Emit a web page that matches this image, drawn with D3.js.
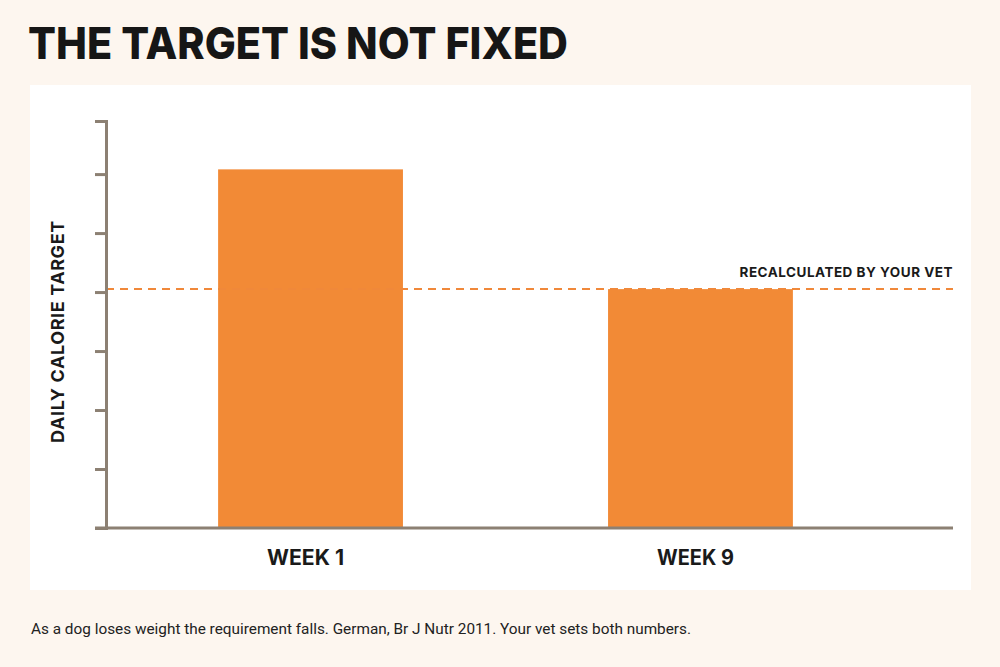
<!DOCTYPE html>
<html><head><meta charset="utf-8">
<script src="https://cdn.jsdelivr.net/npm/d3@7"></script>
<style>
html,body{margin:0;padding:0;background:#fdf6ef;}
svg{display:block;}
</style></head>
<body>
<svg id="chart" width="1000" height="667"></svg>
<script>
// Data
const categories = ["WEEK 1", "WEEK 9"];
const values = [6.08, 4.05];
const referenceValue = 4.05;
const referenceLabel = "RECALCULATED BY YOUR VET";
const yTicks = [1, 2, 3, 4, 5, 6];
const yMax = 6.9;
const title = "THE TARGET IS NOT FIXED";
const yLabel = "DAILY CALORIE TARGET";
const footer = "As a dog loses weight the requirement falls. German, Br J Nutr 2011. Your vet sets both numbers.";

const svg = d3.select("#chart");
const W = 1000, H = 667;
svg.append("rect").attr("width", W).attr("height", H).attr("fill", "#fdf6ef");
svg.append("rect").attr("x", 30).attr("y", 85).attr("width", 941).attr("height", 505).attr("fill", "#ffffff");

svg.append("text").attr("x", 28).attr("y", 59)
  .attr("font-family", "Inter, 'Noto Sans', sans-serif").attr("font-weight", 800)
  .attr("font-size", 44).attr("fill", "#161616")
  .attr("textLength", 540).attr("lengthAdjust", "spacingAndGlyphs")
  .text(title);

const x0 = 106, xEnd = 953, yBase = 528;
const y = d3.scaleLinear().domain([0, yMax]).range([yBase, 121]);
const x = d3.scaleBand().domain(categories).range([106, 905]).paddingInner(0.526).paddingOuter(0.2875);

const axisColor = "#8c8073";

// bars
svg.selectAll("rect.bar").data(values).enter().append("rect")
  .attr("class", "bar")
  .attr("x", (d, i) => x(categories[i]))
  .attr("width", x.bandwidth())
  .attr("y", d => y(d))
  .attr("height", d => yBase - y(d))
  .attr("fill", "#f28a36");

// reference line
svg.append("line").attr("x1", x0).attr("x2", xEnd)
  .attr("y1", y(referenceValue)).attr("y2", y(referenceValue))
  .attr("stroke", "#f0883a").attr("stroke-width", 2).attr("stroke-dasharray", "8,6");
svg.append("text").attr("x", xEnd).attr("y", y(referenceValue) - 12)
  .attr("text-anchor", "end")
  .attr("font-family", "Inter, 'Noto Sans', sans-serif").attr("font-weight", 700)
  .attr("font-size", 13.5).attr("fill", "#1a1a1a").attr("letter-spacing", 0.5)
  .text(referenceLabel);

// y axis
const yAxis = d3.axisLeft(y).tickValues(yTicks).tickSize(11).tickSizeOuter(11).tickFormat("");
const gy = svg.append("g").attr("transform", `translate(${x0},0)`).call(yAxis);
gy.selectAll("path, line").attr("stroke", axisColor).attr("stroke-width", 3);

// x axis
const gx = svg.append("g").attr("transform", `translate(0,${yBase})`)
  .call(d3.axisBottom(x).tickSize(0).tickSizeOuter(0));
gx.select("path.domain").attr("d", `M95,0H${xEnd}`).attr("stroke", axisColor).attr("stroke-width", 3);
gx.selectAll(".tick").attr("transform", d => `translate(${x(d) + x.bandwidth() / 2 - 5},0)`);
gx.selectAll("text").attr("dy", 0).attr("y", 37)
  .attr("font-family", "Inter, 'Noto Sans', sans-serif").attr("font-weight", 700)
  .attr("font-size", 21).attr("fill", "#1a1a1a")
  .attr("textLength", 77).attr("lengthAdjust", "spacingAndGlyphs");

// y label
svg.append("text").attr("transform", `translate(64,${(121 + yBase) / 2 + 7}) rotate(-90)`)
  .attr("text-anchor", "middle")
  .attr("font-family", "Inter, 'Noto Sans', sans-serif").attr("font-weight", 700)
  .attr("font-size", 18).attr("fill", "#1a1a1a").attr("letter-spacing", 0.6)
  .text(yLabel);

// footer
svg.append("text").attr("x", 31).attr("y", 634)
  .attr("font-family", "Roboto, sans-serif").attr("font-weight", 400)
  .attr("font-size", 15.5).attr("fill", "#222")
  .attr("textLength", 660).attr("lengthAdjust", "spacingAndGlyphs")
  .text(footer);
</script>
</body></html>
